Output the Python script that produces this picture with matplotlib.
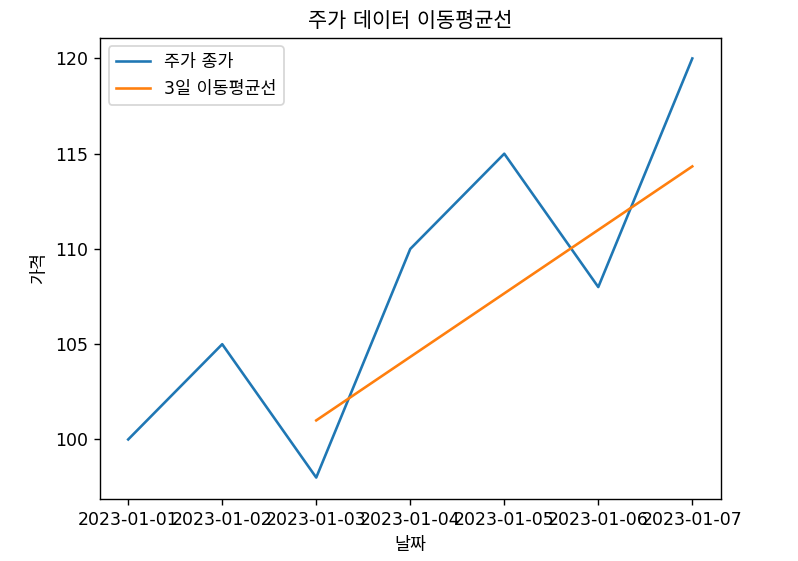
import pandas as pd
import matplotlib
matplotlib.use("Agg")
from matplotlib import pyplot as plt

# 한글 글꼴 (숫자/영문은 DejaVu Sans)
plt.rcParams['font.family'] = ['DejaVu Sans', 'Noto Sans CJK KR']
plt.rcParams['axes.unicode_minus'] = False

# 데이터
dates = ["2023-01-01", "2023-01-02", "2023-01-03", "2023-01-04",
         "2023-01-05", "2023-01-06", "2023-01-07"]
prices = [100, 105, 98, 110, 115, 108, 120]

df = pd.DataFrame({"종가": prices}, index=dates)
df["MA3"] = df["종가"].rolling(window=3).mean()  # 3일 이동평균

W, H = 798, 561
fig = plt.figure(figsize=(W / 125, H / 125), dpi=125)
fig.subplots_adjust(left=100 / W, right=720.5 / W, top=1 - 37.5 / H, bottom=1 - 498.5 / H)
plt.plot(df.index, df["종가"], label="주가 종가")
plt.plot(df.index, df["MA3"], label="3일 이동평균선")
plt.title("주가 데이터 이동평균선")
plt.xlabel("날짜")
plt.ylabel("가격")
plt.legend()
plt.savefig("out.png")
